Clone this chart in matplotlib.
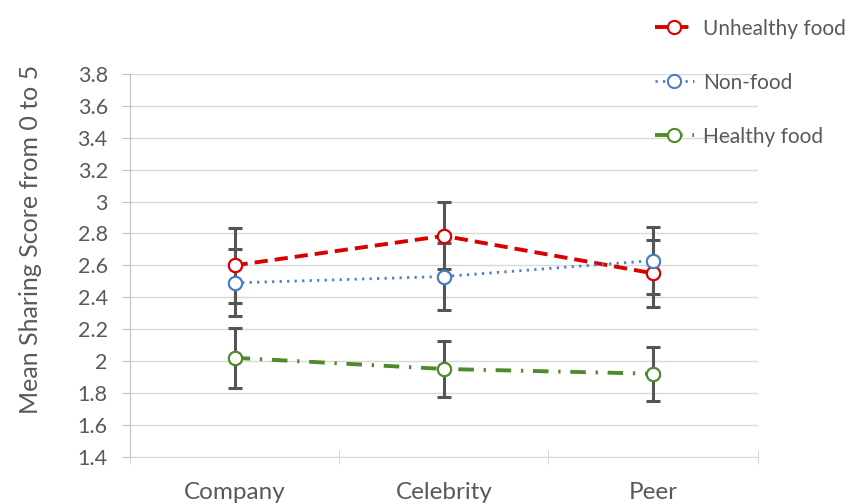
import numpy as np
import matplotlib.pyplot as plt

# data
groups = ['Company', 'Celebrity', 'Peer']
unhealthy = [2.60, 2.785, 2.55]
unhealthy_err = [0.235, 0.21, 0.21]
nonfood = [2.49, 2.53, 2.63]
nonfood_err = [0.21, 0.21, 0.21]
healthy = [2.02, 1.95, 1.92]
healthy_err = [0.19, 0.175, 0.17]
yticks = [1.4, 1.6, 1.8, 2, 2.2, 2.4, 2.6, 2.8, 3, 3.2, 3.4, 3.6, 3.8]

plt.rcParams['font.family'] = ['Lato', 'DejaVu Sans']
txt = '#595959'

fig = plt.figure(figsize=(8.61, 5.04), dpi=100)
ax = fig.add_axes([0.151, 0.094, 0.729, 0.759])
x = np.arange(len(groups))

series = [
    (unhealthy, unhealthy_err, '#D90000', 'Unhealthy food', (0, (3.4, 1.8)), 2.8),
    (nonfood, nonfood_err, '#4A7EC6', 'Non-food', (0, (0.8, 1.9)), 2.0),
    (healthy, healthy_err, '#4F8A2B', 'Healthy food', (0, (4.0, 2.5, 0.6, 2.5)), 2.8),
]

for vals, err, col, lab, ls, lw in series:
    ax.plot(x, vals, color=col, linestyle=ls, linewidth=lw, marker='o',
            markersize=9.5, markerfacecolor='white', markeredgecolor=col,
            markeredgewidth=1.5, label=lab, zorder=2)
    ax.errorbar(x, vals, yerr=err, fmt='none', ecolor='#555555',
                elinewidth=2.2, capsize=5, capthick=2.2, zorder=3)
    ax.plot(x, vals, linestyle='none', marker='o', markersize=9.5,
            markerfacecolor='white', markeredgecolor=col,
            markeredgewidth=1.5, zorder=4)

ax.set_xlim(-0.5, 2.5)
ax.set_ylim(1.4, 3.8)
ax.set_yticks(yticks)
ax.set_yticklabels([('%g' % v) for v in yticks], fontsize=15.5, color=txt)
ax.set_xticks(x)
ax.set_xticklabels(groups, fontsize=17.5, color=txt)
ax.set_xticks([-0.5, 0.5, 1.5, 2.5], minor=True)
ax.tick_params(axis='x', which='major', length=0, pad=18)
ax.tick_params(axis='x', which='minor', length=10, direction='inout',
               color='#D0D0D0')
ax.tick_params(axis='y', length=6, color='#BFBFBF', pad=10)
ax.yaxis.grid(True, color='#D9D9D9', linewidth=1)
ax.set_axisbelow(True)
for s in ['top', 'right']:
    ax.spines[s].set_visible(False)
ax.spines['left'].set_color('#BFBFBF')
ax.spines['bottom'].set_color('#D9D9D9')
ax.set_ylabel('Mean Sharing Score from 0 to 5', fontsize=18, color=txt)
ax.yaxis.set_label_coords(-0.141, 0.568)

leg = fig.legend(loc='upper left', bbox_to_anchor=(0.739, 1.0), frameon=False,
                 fontsize=15, labelspacing=1.63, handlelength=1.85,
                 handletextpad=0.45)
for t in leg.get_texts():
    t.set_color(txt)

fig.savefig('out.png', dpi=100)
